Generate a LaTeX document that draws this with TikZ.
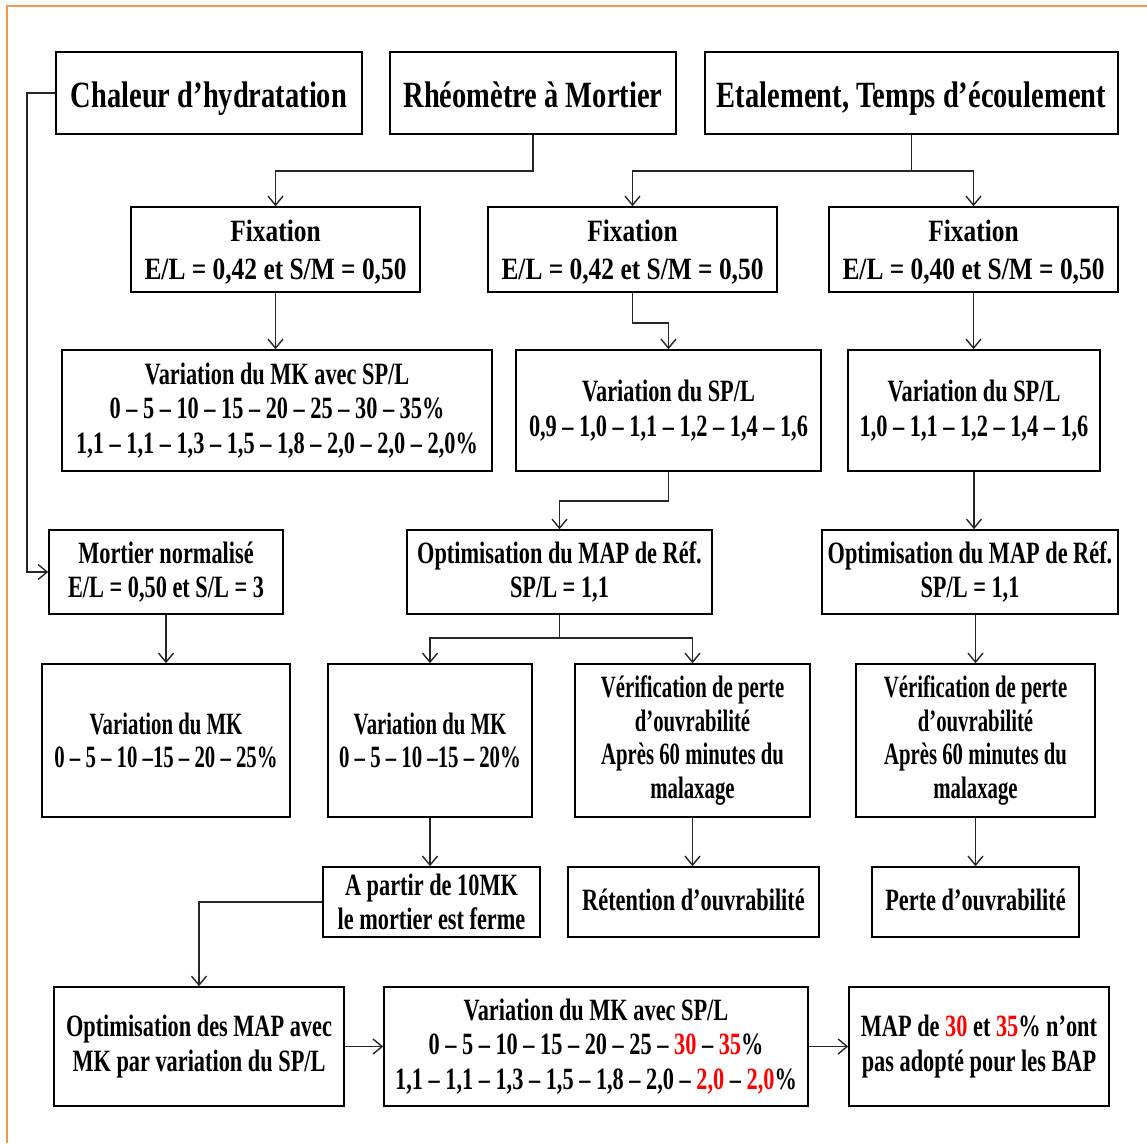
\documentclass[tikz,border=0pt]{standalone}
\usepackage{fontspec}
\setmainfont{Liberation Serif}[FakeStretch=0.72]
% condensed serif cuts used by the different boxes
\newfontfamily\fhead{Liberation Serif}[FakeStretch=0.77]
\newfontfamily\fnorm{Liberation Serif}[FakeStretch=0.72]
\newfontfamily\fwide{Liberation Serif}[FakeStretch=0.82]
\newfontfamily\fnarrow{Liberation Serif}[FakeStretch=0.67]
\usetikzlibrary{arrows.meta}
\definecolor{frameorange}{RGB}{247,150,70}
\definecolor{hl}{RGB}{255,0,0}
\newcommand{\headfont}{\fhead\fontsize{37}{40}\selectfont\bfseries}
\newcommand{\bodyfont}{\fnorm\fontsize{31}{34.5}\selectfont\bfseries}
\newcommand{\widefont}{\fwide\fontsize{31}{34.5}\selectfont\bfseries}
\newcommand{\narrowfont}{\fnarrow\fontsize{31}{33.5}\selectfont\bfseries}
\newcommand{\hi}[1]{\textcolor{hl}{#1}}
\begin{document}
\begin{tikzpicture}[x=1pt,y=-1pt,
  box/.style={draw=black, line width=1.6pt, align=center, inner sep=0pt, font=\bodyfont},
  headbox/.style={box, font=\headfont, minimum height=82pt, text height=28pt, text depth=0pt},
  fixbox/.style={box, font=\widefont, minimum width=289pt, minimum height=85pt},
  arr/.style={draw=black!85, line width=1.6pt, -{Straight Barb[length=9pt,width=15pt,line width=1.4pt]}},
  link/.style={draw=black!85, line width=1.6pt}]
  % page and orange frame
  \useasboundingbox (0,0) rectangle (1147,1143);
  \fill[white] (0,0) rectangle (1147,1143);
  \draw[frameorange, line width=2pt] (7,1143) -- (7,6) -- (1147,6);

  % row 1: test methods
  \node[headbox, minimum width=306pt] (ch) at (209,93) {Chaleur d’hydratation};
  \node[headbox, minimum width=286pt] (rh) at (533,93) {Rhéomètre à Mortier};
  \node[headbox, minimum width=413pt] (et) at (911.5,93) {Etalement, Temps d’écoulement};

  % row 2: fixed ratios
  \node[fixbox] (f1) at (275.5,249.5) {\rule{0pt}{27pt}Fixation\\[4pt] E/L = 0,42 et S/M = 0,50};
  \node[fixbox] (f2) at (632.5,249.5) {\rule{0pt}{27pt}Fixation\\[4pt] E/L = 0,42 et S/M = 0,50};
  \node[fixbox] (f3) at (973.5,249.5) {\rule{0pt}{27pt}Fixation\\[4pt] E/L = 0,40 et S/M = 0,50};

  % row 3: variations
  \node[box, minimum width=430pt, minimum height=121pt] (v1) at (277,410.5) {Variation du MK avec SP/L\\ 0 – 5 – 10 – 15 – 20 – 25 – 30 – 35\%\\ 1,1 – 1,1 – 1,3 – 1,5 – 1,8 – 2,0 – 2,0 – 2,0\%};
  \node[box, minimum width=305pt, minimum height=121pt] (v2) at (668.5,410.5) {Variation du SP/L\\ 0,9 – 1,0 – 1,1 – 1,2 – 1,4 – 1,6};
  \node[box, minimum width=252pt, minimum height=121pt] (v3) at (974,410.5) {Variation du SP/L\\ 1,0 – 1,1 – 1,2 – 1,4 – 1,6};

  % row 4: reference mortars
  \node[box, minimum width=234pt, minimum height=84pt] (mn) at (166,572) {Mortier normalisé\\ E/L = 0,50 et S/L = 3};
  \node[box, minimum width=305pt, minimum height=84pt] (o2) at (559.5,572) {Optimisation du MAP de Réf.\\ SP/L = 1,1};
  \node[box, minimum width=296pt, minimum height=84pt] (o3) at (970,572) {Optimisation du MAP de Réf.\\ SP/L = 1,1};

  % row 5
  \node[box, font=\narrowfont, minimum width=248pt, minimum height=153pt] (m1) at (166,740.5) {Variation du MK\\ 0 – 5 – 10 –15 – 20 – 25\%};
  \node[box, font=\narrowfont, minimum width=204pt, minimum height=153pt] (m2) at (430,740.5) {Variation du MK\\ 0 – 5 – 10 –15 – 20\%};
  \node[box, font=\narrowfont, minimum width=235pt, minimum height=153pt] (ve2) at (692.5,740.5) {Vérification de perte\\ d’ouvrabilité\\ Après 60 minutes du\\ malaxage};
  \node[box, font=\narrowfont, minimum width=239pt, minimum height=153pt] (ve3) at (975.5,740.5) {Vérification de perte\\ d’ouvrabilité\\ Après 60 minutes du\\ malaxage};

  % row 6: outcomes
  \node[box, minimum width=217pt, minimum height=70pt] (ap) at (431.5,902) {A partir de 10MK\\ le mortier est ferme};
  \node[box, minimum width=251pt, minimum height=70pt, text height=22pt, text depth=6pt] (re) at (693.5,902) {Rétention d’ouvrabilité};
  \node[box, minimum width=207pt, minimum height=70pt, text height=22pt, text depth=6pt] (pe) at (975.5,902) {Perte d’ouvrabilité};

  % row 7: final optimisation
  \node[box, minimum width=290pt, minimum height=119pt] (b1) at (199,1046.5) {Optimisation des MAP avec\\ MK par variation du SP/L};
  \node[box, minimum width=424pt, minimum height=119pt] (b2) at (596,1046.5) {Variation du MK avec SP/L\\ 0 – 5 – 10 – 15 – 20 – 25 – \hi{30} – \hi{35}\%\\ 1,1 – 1,1 – 1,3 – 1,5 – 1,8 – 2,0 – \hi{2,0} – \hi{2,0}\%};
  \node[box, minimum width=260pt, minimum height=119pt] (b3) at (979,1046.5) {MAP de \hi{30} et \hi{35}\% n’ont\\ pas adopté pour les BAP};

  % connectors
  \draw[arr] (ch.west) -- ++(-28,0) |- (mn.west);
  \draw[arr] (rh.south) -- ++(0,36) -| (f1.north);
  \draw[link] (et.south) -- ++(0,36) coordinate (etj);
  \draw[arr] (etj) -| (f2.north);
  \draw[arr] (etj) -| (f3.north);
  \draw[arr] (f1.south) -- (f1.south |- v1.north);
  \draw[arr] (f2.south) -- ++(0,30) -| (v2.north);
  \draw[arr] (f3.south) -- (f3.south |- v3.north);
  \draw[arr] (v2.south) -- ++(0,29) -| (o2.north);
  \draw[arr] (v3.south) -- (v3.south |- o3.north);
  \draw[arr] (mn.south) -- (m1.north);
  \draw[link] (o2.south) -- ++(0,23) coordinate (o2j);
  \draw[arr] (o2j) -| (m2.north);
  \draw[arr] (o2j) -| (ve2.north);
  \draw[arr] (ve3.north |- o3.south) -- (ve3.north);
  \draw[arr] (m2.south) -- (m2.south |- ap.north);
  \draw[arr] (ve2.south) -- (ve2.south |- re.north);
  \draw[arr] (ve3.south) -- (ve3.south |- pe.north);
  \draw[arr] (ap.west) -| (b1.north);
  \draw[arr] (b1.east) -- (b2.west);
  \draw[arr] (b2.east) -- (b3.west);
\end{tikzpicture}
\end{document}
